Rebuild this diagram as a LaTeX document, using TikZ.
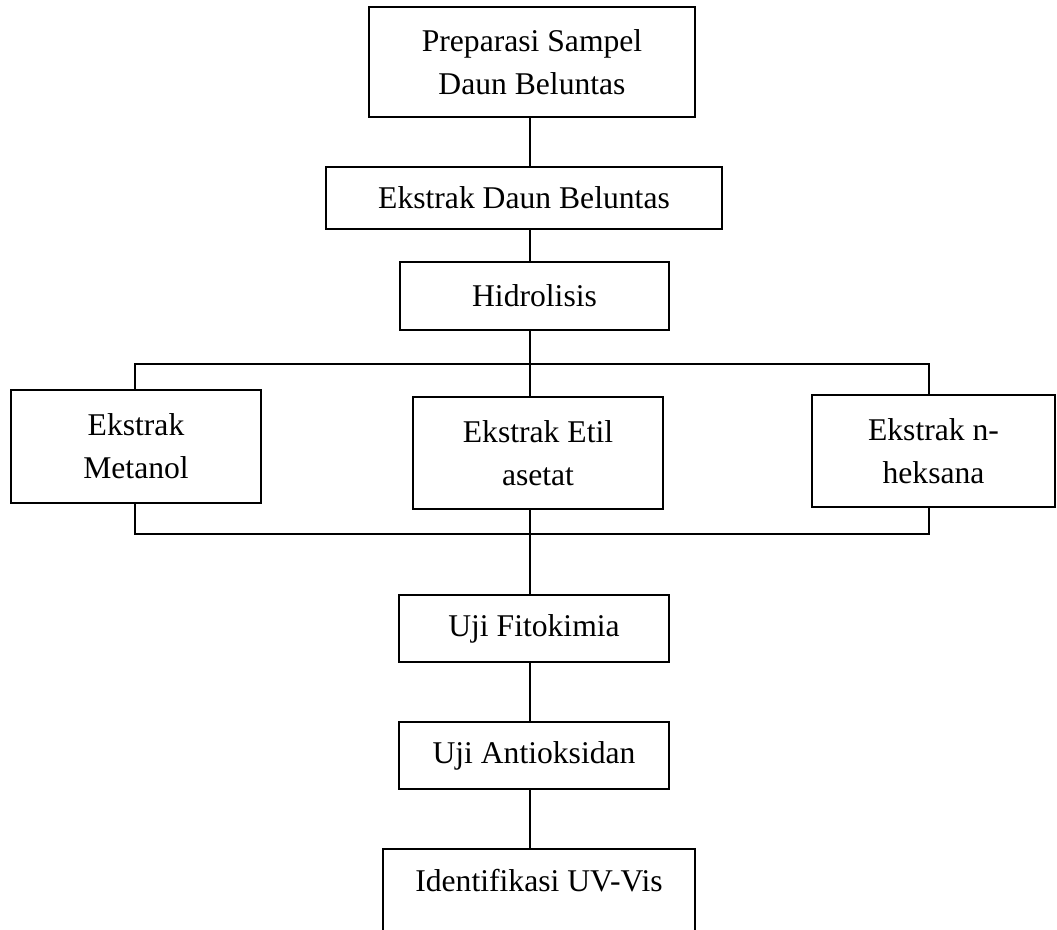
\documentclass[tikz,border=0pt]{standalone}
\usepackage{fontspec}
\setmainfont{Liberation Serif}
\usepackage{tikz}
\usetikzlibrary{positioning}

\begin{document}
\begin{tikzpicture}[
    box/.style={draw, line width=1.1pt, align=center, inner sep=4pt, font=\fontsize{18}{24.5}\selectfont},
    wide/.style={box, minimum width=5.4cm, minimum height=1.34cm},
    branch/.style={box, minimum width=5.0cm, minimum height=2.24cm},
    link/.style={line width=1.1pt},
]
\useasboundingbox (0,0) rectangle (21.14,-18.6);

% Spine and bus points
\coordinate (spine) at (10.6,0);
\coordinate (ltop) at (2.70,-7.28);
\coordinate (rtop) at (18.58,-7.28);
\coordinate (lbot) at (2.70,-10.68);
\coordinate (rbot) at (18.58,-10.68);

% Preparation
\node[box, minimum width=6.52cm, minimum height=2.2cm] (prep) at (10.64,-1.24) {Preparasi Sampel\\Daun Beluntas};
\node[box, minimum width=7.92cm, minimum height=1.24cm] (ekstrak) at (10.48,-3.96) {Ekstrak Daun Beluntas};
\node[box, minimum width=5.38cm, minimum height=1.36cm] (hidro) at (10.69,-5.92) {Hidrolisis};

% Extracts
\node[branch, minimum height=2.26cm] (metanol) at (2.72,-8.93) {Ekstrak\\Metanol};
\node[branch] (etil) at (10.76,-9.06) {Ekstrak Etil\\asetat};
\node[branch, minimum width=4.86cm] (heksana) at (18.67,-9.02) {Ekstrak n-\\heksana};

% Tests
\node[wide] (fito) at (10.68,-12.57) {Uji Fitokimia};
\node[wide] (antiok) at (10.68,-15.11) {Uji Antioksidan};
\node[box, minimum width=6.24cm, anchor=north, text height=0.70cm, text depth=2cm] (uvvis) at (10.78,-16.96) {Identifikasi UV-Vis};

% Lines
\draw[link] (prep.south -| spine) -- (ekstrak.north -| spine);
\draw[link] (ekstrak.south -| spine) -- (hidro.north -| spine);
\draw[link] (hidro.south -| spine) -- (etil.north -| spine);
\draw[link] (metanol.north -| ltop) -- (ltop) -- (rtop) -- (heksana.north -| rtop);
\draw[link] (metanol.south -| lbot) -- (lbot) -- (rbot) -- (heksana.south -| rbot);
\draw[link] (etil.south -| spine) -- (fito.north -| spine);
\draw[link] (fito.south -| spine) -- (antiok.north -| spine);
\draw[link] (antiok.south -| spine) -- (uvvis.north -| spine);

\end{tikzpicture}
\end{document}
